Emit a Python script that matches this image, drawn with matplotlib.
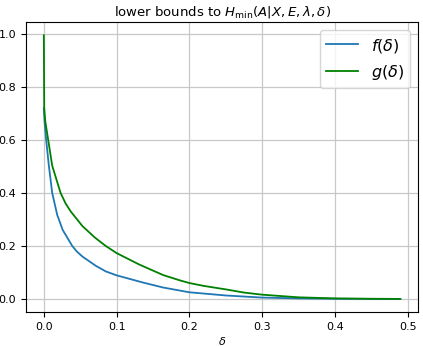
import numpy as np
import matplotlib
matplotlib.use("Agg")
import matplotlib.pyplot as plt

# values
f_delta = [0.0, 0.001, 0.0032, 0.0069, 0.0115, 0.0184, 0.026, 0.039, 0.045, 0.053,
           0.0714, 0.085, 0.1, 0.136, 0.164, 0.2, 0.25, 0.3, 0.35, 0.4, 0.45, 0.49]
f_vals = [0.72, 0.67, 0.6, 0.503, 0.4, 0.317, 0.26, 0.2, 0.18, 0.16,
          0.125, 0.104, 0.089, 0.062, 0.043, 0.025, 0.013, 0.005, 0.002, 0.0005, 0.0001, 0.0]

g_delta = [0.0, 0.0005, 0.002, 0.006, 0.0115, 0.023, 0.03, 0.037, 0.053, 0.07, 0.085,
           0.1, 0.131, 0.164, 0.187, 0.2, 0.22, 0.25, 0.275, 0.3, 0.35, 0.4, 0.45, 0.49]
g_vals = [0.995, 0.72, 0.67, 0.6, 0.503, 0.4, 0.36, 0.33, 0.275, 0.232, 0.2,
          0.173, 0.13, 0.09, 0.07, 0.06, 0.049, 0.036, 0.024, 0.016, 0.006, 0.002, 0.0005, 0.0]

fig = plt.figure(figsize=(4.23, 3.46), dpi=100)
ax = fig.add_axes([0.0615, 0.098, 0.927, 0.838])

ax.plot(f_delta, f_vals, color="#1f77b4", lw=1.3, label=r"$f(\delta)$")
ax.plot(g_delta, g_vals, color="g", lw=1.3, label=r"$g(\delta)$")

ax.grid(True, color="#c8c8c8", lw=0.9)
ax.tick_params(labelsize=8)
ax.set_xlabel(r"$\delta$", fontsize=8, labelpad=2)
ax.set_title(r"lower bounds to $H_{\min}(A|X,E,\lambda,\delta)$", fontsize=9.5, pad=5)
ax.legend(loc="upper right", fontsize=11.5)

fig.savefig("out.png", dpi=100)
